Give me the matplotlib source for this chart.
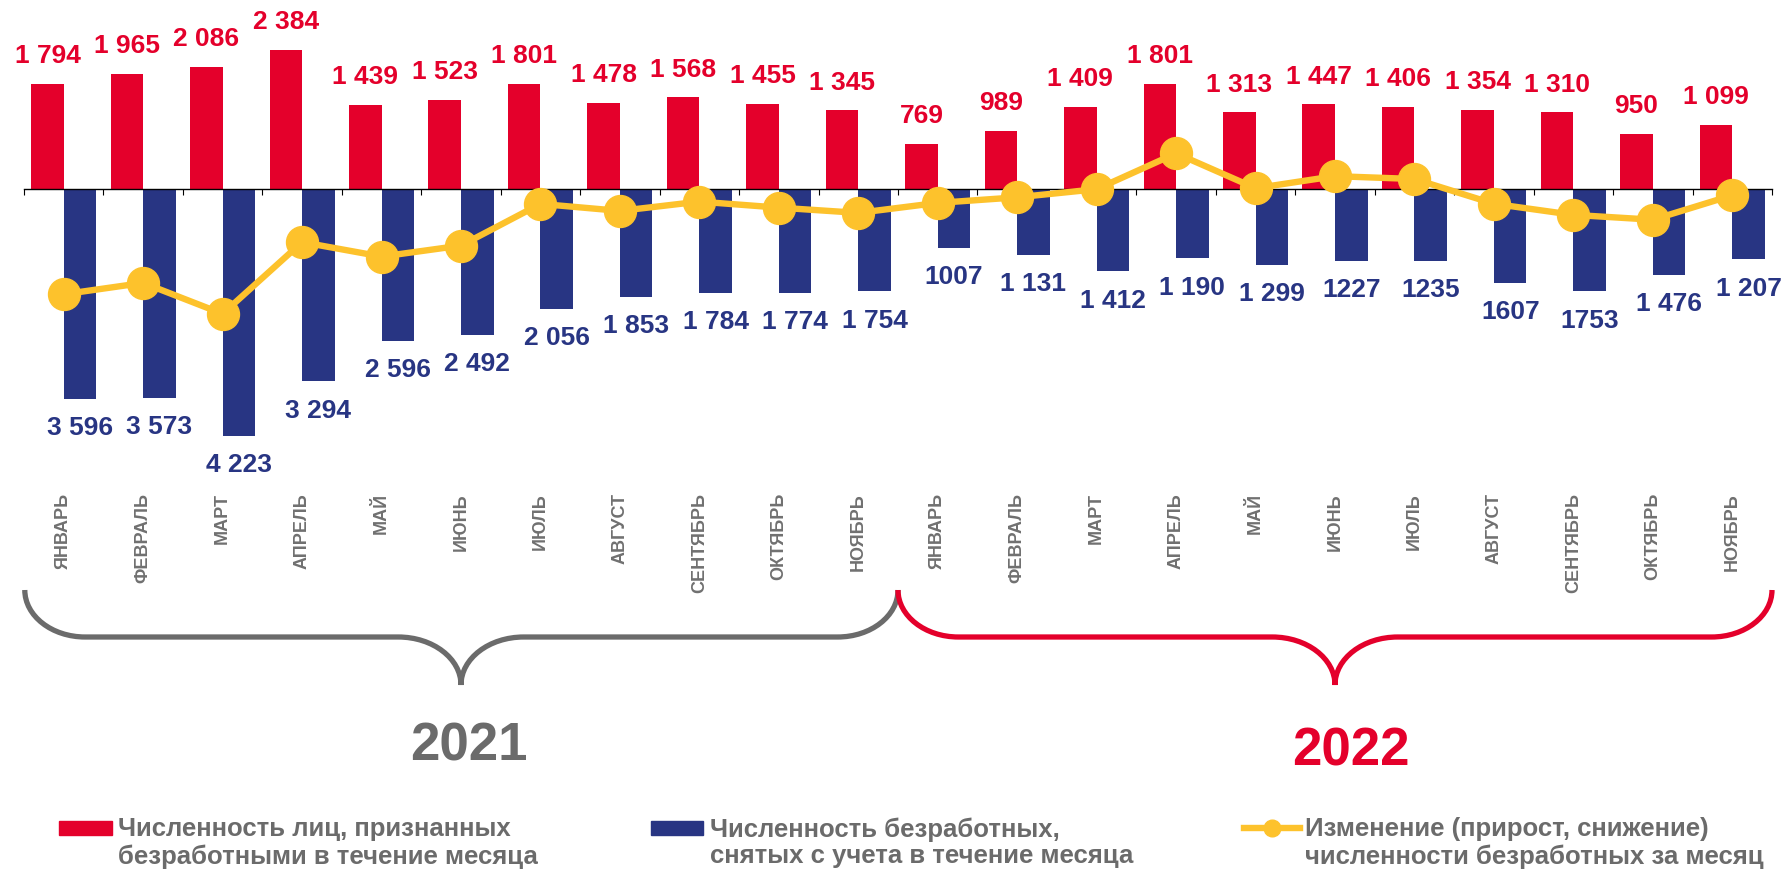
import numpy as np
import matplotlib
matplotlib.use("Agg")
import matplotlib.pyplot as plt
import matplotlib.transforms as mtransforms
from matplotlib.path import Path
from matplotlib.patches import PathPatch, Rectangle
from matplotlib.lines import Line2D

plt.rcParams["font.family"] = ["Liberation Sans", "DejaVu Sans"]

months = ["ЯНВАРЬ", "ФЕВРАЛЬ", "МАРТ", "АПРЕЛЬ", "МАЙ", "ИЮНЬ", "ИЮЛЬ",
          "АВГУСТ", "СЕНТЯБРЬ", "ОКТЯБРЬ", "НОЯБРЬ"]
month_labels = months + months
years = ["2021", "2022"]

# признаны безработными за месяц
recognized = [1794, 1965, 2086, 2384, 1439, 1523, 1801, 1478, 1568, 1455, 1345,
              769, 989, 1409, 1801, 1313, 1447, 1406, 1354, 1310, 950, 1099]
removed = [3596, 3573, 4223, 3294, 2596, 2492, 2056, 1853, 1784, 1774, 1754,
           1007, 1131, 1412, 1190, 1299, 1227, 1235, 1607, 1753, 1476, 1207]
removed_text = ["3 596", "3 573", "4 223", "3 294", "2 596", "2 492", "2 056",
                "1 853", "1 784", "1 774", "1 754", "1007", "1 131", "1 412",
                "1 190", "1 299", "1227", "1235", "1607", "1753", "1 476", "1 207"]
# изменение численности
change = [-1802, -1608, -2137, -910, -1157, -969, -255, -375, -216, -319, -409,
          -238, -142, -3, 611, 14, 220, 171, -253, -443, -526, -108]

legend_labels = ["Численность лиц, признанных\nбезработными в течение месяца",
                 "Численность безработных,\nснятых с учета в течение месяца",
                 "Изменение (прирост, снижение)\nчисленности безработных за месяц"]

RED = "#E4002B"
BLUE = "#283583"
YELLOW = "#FDC22C"
GRAY = "#6B6B6B"

W, H = 1786, 871
fig = plt.figure(figsize=(W / 100, H / 100), dpi=100)
ax = fig.add_axes([24 / W, 0, 1748 / W, 1])
scale = 0.0584  # px per unit
zero_px = 189
ax.set_ylim(-(H - zero_px) / scale, zero_px / scale)
ax.set_xlim(-0.5, 21.5)

x = np.arange(len(recognized))
w = 0.41
ax.bar(x - w / 2, recognized, w, color=RED, zorder=2)
ax.bar(x + w / 2, [-v for v in removed], w, color=BLUE, zorder=2)
ax.plot(x, change, color=YELLOW, lw=4.6, marker="o", ms=23, zorder=5)

for i, v in enumerate(recognized):
    ax.annotate("{:,}".format(v).replace(",", " "), (x[i] - w / 2, v),
                xytext=(0, 20), textcoords="offset points", ha="center", va="center",
                color=RED, fontsize=19, fontweight="bold")
for i, v in enumerate(removed):
    ax.annotate(removed_text[i], (x[i] + w / 2, -v),
                xytext=(0, -21), textcoords="offset points", ha="center", va="center",
                color=BLUE, fontsize=19, fontweight="bold")

for s in ["top", "left", "right"]:
    ax.spines[s].set_visible(False)
ax.spines["bottom"].set_position(("data", 0))
ax.spines["bottom"].set_linewidth(1)
ax.set_xticks(np.arange(-0.5, 22, 1))
ax.tick_params(axis="x", direction="out", length=4, labelbottom=False)
ax.set_yticks([])

trans = mtransforms.blended_transform_factory(ax.transData, fig.transFigure)

def fy(p):
    return 1 - p / H

for i, m in enumerate(month_labels):
    ax.text(i, fy(493), m, rotation=90, ha="center", va="top", transform=trans,
            fontsize=13, fontweight="bold", color="#707070")


def brace(xa, xb, xm, color):
    ytop, ymid, ytip = fy(590), fy(637), fy(685)
    r, r2 = 0.76, 0.79
    k = 0.552
    verts = [(xa, ytop),
             (xa, ytop - k * (ytop - ymid)), (xa + (1 - k) * r, ymid), (xa + r, ymid),
             (xm - r2, ymid),
             (xm - (1 - k) * r2, ymid), (xm, ytip + k * (ymid - ytip)), (xm, ytip),
             (xm, ytip + k * (ymid - ytip)), (xm + (1 - k) * r2, ymid), (xm + r2, ymid),
             (xb - r, ymid),
             (xb - (1 - k) * r, ymid), (xb, ytop - k * (ytop - ymid)), (xb, ytop)]
    codes = [Path.MOVETO] + [Path.CURVE4] * 3 + [Path.LINETO] + [Path.CURVE4] * 6 \
        + [Path.LINETO] + [Path.CURVE4] * 3
    ax.add_patch(PathPatch(Path(verts, codes), facecolor="none", edgecolor=color,
                           lw=3.8, transform=trans, clip_on=False))


brace(-0.49, 10.5, 5.0, GRAY)
brace(10.5, 21.5, 16.0, RED)

ax.text(5.1, fy(746), years[0], transform=trans, ha="center", va="center",
        fontsize=38, fontweight="bold", color=GRAY)
ax.text(16.2, fy(751), years[1], transform=trans, ha="center", va="center",
        fontsize=38, fontweight="bold", color=RED)

# легенда
fig.patches.append(Rectangle((59 / W, fy(835)), 53 / W, 14 / H, color=RED,
                             transform=fig.transFigure))
fig.patches.append(Rectangle((651 / W, fy(835)), 52 / W, 14 / H, color=BLUE,
                             transform=fig.transFigure))
fig.lines.append(Line2D([1244 / W, 1300 / W], [fy(828), fy(828)], color=YELLOW, lw=4.6,
                        transform=fig.transFigure))
fig.lines.append(Line2D([1272 / W], [fy(828)], color=YELLOW, marker="o", ms=12,
                        transform=fig.transFigure))
for xt, lab in zip([118, 710, 1305], legend_labels):
    fig.text(xt / W, fy(843), lab, ha="left", va="center", fontsize=18.5,
             fontweight="bold", color=GRAY, linespacing=1.13)

fig.savefig("out.png", dpi=100)
